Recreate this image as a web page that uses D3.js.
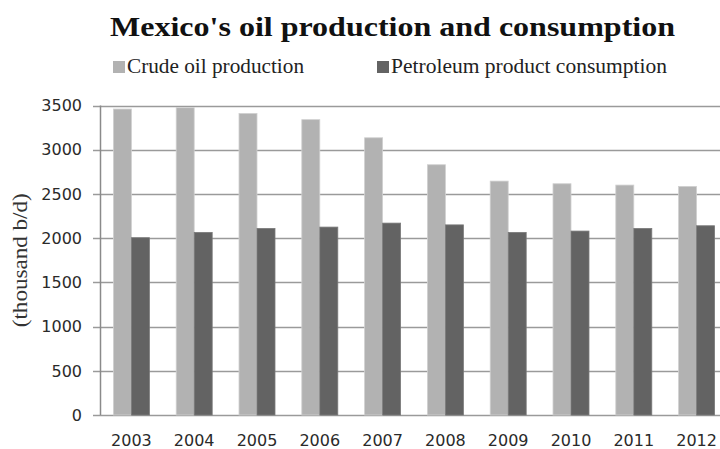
<!DOCTYPE html>
<html>
<head>
<meta charset="utf-8">
<script src="https://cdn.jsdelivr.net/npm/d3@7"></script>
<style>
  body { margin: 0; background: #fff; }
  svg { display: block; }
</style>
</head>
<body>
<div class="chart"></div>
<script>
var years = ['2003', '2004', '2005', '2006', '2007', '2008', '2009', '2010', '2011', '2012'];
var crudeProduction = [3460, 3475, 3410, 3340, 3135, 2830, 2645, 2615, 2600, 2585];
var productConsumption = [2005, 2065, 2110, 2125, 2170, 2150, 2065, 2080, 2110, 2140];
var seriesNames = ['Crude oil production', 'Petroleum product consumption'];
var yTicks = [0, 500, 1000, 1500, 2000, 2500, 3000, 3500];

var width = 720, height = 449;
var margin = { top: 105.5, left: 100, bottom: 34 };
var plotWidth = 628;

var svg = d3.select('.chart').append('svg')
	.attr('width', width)
	.attr('height', height);

var x = d3.scaleBand().domain(years).range([margin.left, margin.left + plotWidth]);
var y = d3.scaleLinear().domain([0, 3500]).range([height - margin.bottom, margin.top]);
var barW = 18;
var colors = ['#b2b2b2', '#636363'];

// gridlines
svg.append('g').selectAll('line')
	.data(yTicks)
	.enter()
	.append('line')
	.attr('x1', margin.left - 7).attr('x2', width)
	.attr('y1', function(d) { return Math.round(y(d)) + 0.5; })
	.attr('y2', function(d) { return Math.round(y(d)) + 0.5; })
	.style('stroke', '#9a9a9a').style('stroke-width', 1.5);

// y axis line
svg.append('line')
	.attr('x1', margin.left + 0.5).attr('x2', margin.left + 0.5)
	.attr('y1', y(3500)).attr('y2', y(0))
	.style('stroke', '#8a8a8a').style('stroke-width', 1.5);

var data = [crudeProduction, productConsumption];
data.forEach(function(vals, si) {
	svg.append('g').selectAll('rect')
		.data(vals)
		.enter()
		.append('rect')
		.attr('x', function(d, i) { return x(years[i]) + x.bandwidth() / 2 - barW + si * barW; })
		.attr('y', function(d) { return y(d); })
		.attr('width', barW)
		.attr('height', function(d) { return y(0) - y(d); })
		.style('fill', colors[si])
		.style('stroke', si === 0 ? '#d0d0d0' : '#7a7a7a')
		.style('stroke-width', 0.8);
});

// y tick labels
svg.append('g').selectAll('text')
	.data(yTicks)
	.enter()
	.append('text')
	.attr('x', margin.left - 18)
	.attr('y', function(d) { return y(d); })
	.attr('dy', '0.36em')
	.attr('text-anchor', 'end')
	.style('font-family', 'DejaVu Sans')
	.style('font-size', '16px')
	.style('fill', '#2a2a2a')
	.text(function(d) { return d; });

// x tick labels
svg.append('g').selectAll('text')
	.data(years)
	.enter()
	.append('text')
	.attr('x', function(d) { return x(d) + x.bandwidth() / 2; })
	.attr('y', 446)
	.attr('text-anchor', 'middle')
	.style('font-family', 'DejaVu Sans')
	.style('font-size', '16px')
	.style('fill', '#2a2a2a')
	.text(function(d) { return d; });

// y axis title
svg.append('text')
	.attr('transform', 'translate(27,' + ((y(0) + y(3500)) / 2) + ') rotate(-90)')
	.attr('text-anchor', 'middle')
	.attr('textLength', 134)
	.attr('lengthAdjust', 'spacingAndGlyphs')
	.style('font-family', 'Liberation Serif')
	.style('font-size', '20px')
	.style('fill', '#333')
	.text('(thousand b/d)');

// title
svg.append('text')
	.attr('x', 110).attr('y', 36)
	.attr('textLength', 565)
	.attr('lengthAdjust', 'spacingAndGlyphs')
	.style('font-family', 'Liberation Serif')
	.style('font-weight', 'bold')
	.style('font-size', '28px')
	.style('fill', '#111')
	.text("Mexico's oil production and consumption");

// legend
var legendX = [113, 377];
var legendLen = [177, 276];
seriesNames.forEach(function(name, i) {
	svg.append('rect')
		.attr('x', legendX[i]).attr('y', 61)
		.attr('width', 12).attr('height', 12)
		.style('fill', colors[i]);
	svg.append('text')
		.attr('x', legendX[i] + 14).attr('y', 73)
		.attr('textLength', legendLen[i])
		.attr('lengthAdjust', 'spacingAndGlyphs')
		.style('font-family', 'Liberation Serif')
		.style('font-size', '20px')
		.style('fill', '#222')
		.text(name);
});
</script>
</body>
</html>
